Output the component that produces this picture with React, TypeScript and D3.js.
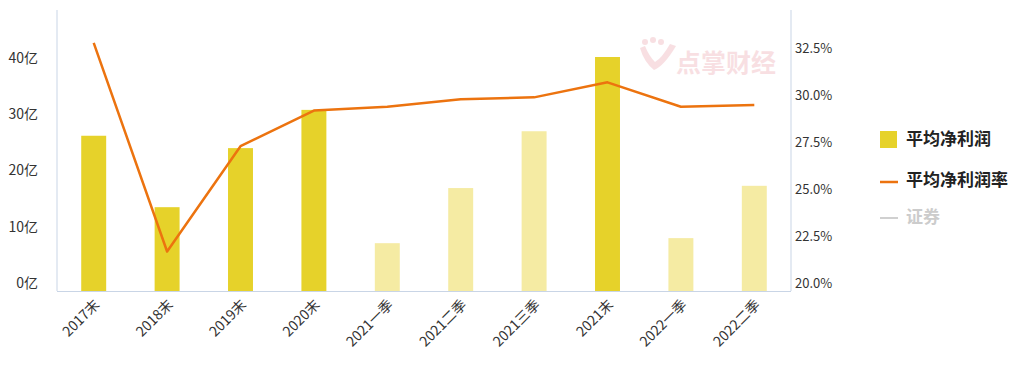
import React from "react";
import * as d3 from "d3";

const categories = ["2017末", "2018末", "2019末", "2020末", "2021一季", "2021二季", "2021三季", "2021末", "2022一季", "2022二季"];
const profit = [27.6, 14.9, 25.4, 32.2, 8.5, 18.3, 28.4, 41.6, 9.4, 18.7];
const barType = ["year", "year", "year", "year", "quarter", "quarter", "quarter", "year", "quarter", "quarter"];
const margin = [33.2, 22.1, 27.7, 29.6, 29.8, 30.2, 30.3, 31.1, 29.8, 29.9];
const leftTicks = [0, 10, 20, 30, 40];
const rightTicks = [20, 22.5, 25, 27.5, 30, 32.5];
const legendItems = ["平均净利润", "平均净利润率", "证券"];

const W = 1024, H = 369;
const X0 = 57, X1 = 791, Y0 = 291, YTOP = 10;
const FONT = "'Noto Sans CJK SC', 'Noto Sans', sans-serif";

export default function App() {
  const x = d3.scaleBand<string>().domain(categories).range([X0, X1]).paddingInner(0.66).paddingOuter(0.33);
  const yL = d3.scaleLinear().domain([0, 40]).range([Y0, 66]);
  const yR = d3.scaleLinear().domain([20, 32.5]).range([Y0, 56]);
  const line = d3.line<number>().x((_, i) => (x(categories[i]) as number) + x.bandwidth() / 2).y(d => yR(d));

  return (
    <div style={{ position: "absolute", left: 0, top: 0 }}>
      <svg width={W} height={H} style={{ display: "block", background: "#fff" }}>
        {/* watermark */}
        <g opacity={0.14} fill="#d0263a">
          <path d="M640 48 q4 14 14 22 q10 -4 22 -24 l-6 -2 q-8 14 -15 18 q-6 -6 -10 -16 z" />
          <circle cx={645} cy={42} r={3} />
          <circle cx={653} cy={40} r={3} />
          <circle cx={661} cy={42} r={3} />
          <text x={676} y={72} fontSize={25} fontWeight="bold" fontFamily={FONT}>点掌财经</text>
        </g>
        {/* axes lines */}
        <line x1={X0} x2={X0} y1={YTOP} y2={Y0} stroke="#c9d5e6" strokeWidth={1} />
        <line x1={X1} x2={X1} y1={YTOP} y2={Y0} stroke="#c9d5e6" strokeWidth={1} />
        {/* bars */}
        {categories.map((c, i) => (
          <rect key={c} x={x(c)} y={yL(profit[i])} width={x.bandwidth()} height={Y0 - yL(profit[i])}
            fill={barType[i] === "year" ? "#e6d22a" : "#f5eba3"} />
        ))}
        <line x1={X0} x2={X1} y1={Y0 + 0.5} y2={Y0 + 0.5} stroke="#c9d5e6" strokeWidth={1} />
        {/* line */}
        <path d={line(margin) || ""} fill="none" stroke="#ec730f" strokeWidth={2.5} strokeLinejoin="round" />
        {/* left ticks */}
        {leftTicks.map(t => (
          <text key={t} x={38} y={yL(t) - 7} textAnchor="end" dominantBaseline="middle" fontSize={14} fill="#333" fontFamily={FONT}>{t}亿</text>
        ))}
        {rightTicks.map(t => (
          <text key={t} x={795} y={yR(t) - 7} textAnchor="start" dominantBaseline="middle" fontSize={13} fill="#333" fontFamily={FONT}>{t.toFixed(1)}%</text>
        ))}
        {/* x labels */}
        {categories.map(c => {
          const cx = (x(c) as number) + x.bandwidth() / 2 + 4;
          return (
            <text key={c} transform={`translate(${cx},${303}) rotate(-45)`} textAnchor="end" dominantBaseline="middle" fontSize={14} fill="#333" fontFamily={FONT}>{c}</text>
          );
        })}
        {/* legend */}
        <rect x={880} y={131} width={17} height={17} fill="#e6d22a" />
        <text x={906} y={140} dominantBaseline="middle" fontSize={17} fontWeight="bold" fill="#222" fontFamily={FONT}>{legendItems[0]}</text>
        <line x1={880} x2={898} y1={182} y2={182} stroke="#ec730f" strokeWidth={2.5} />
        <text x={906} y={181} dominantBaseline="middle" fontSize={17} fontWeight="bold" fill="#222" fontFamily={FONT}>{legendItems[1]}</text>
        <line x1={880} x2={898} y1={218} y2={218} stroke="#d0d0d0" strokeWidth={2} />
        <text x={906} y={218} dominantBaseline="middle" fontSize={17} fontWeight="bold" fill="#ccc" fontFamily={FONT}>{legendItems[2]}</text>
      </svg>
    </div>
  );
}
